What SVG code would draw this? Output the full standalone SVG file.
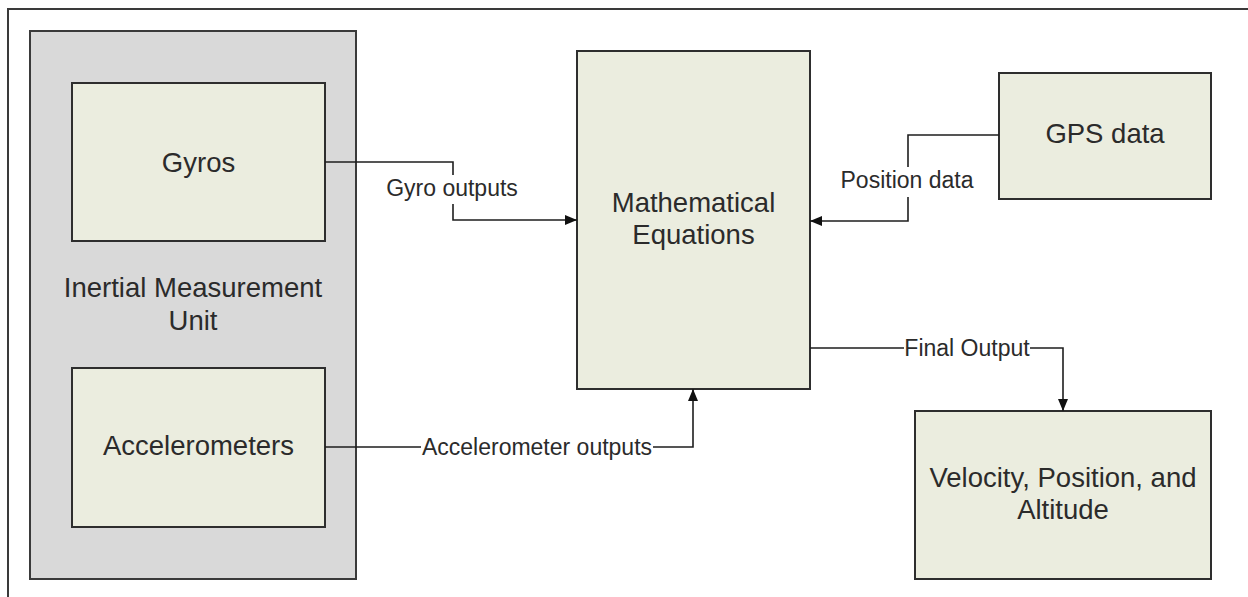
<svg xmlns="http://www.w3.org/2000/svg" width="1248" height="597" viewBox="0 0 1248 597">
  <style>
    .node { fill: #ebeddf; stroke: #2e2e2e; stroke-width: 2; }
    .group { fill: #d9d9d9; stroke: #3a3a3a; stroke-width: 2; }
    .ntext { font-family: "Liberation Sans", Arial, sans-serif; font-size: 27.5px; fill: #2b2b2b; text-anchor: middle; }
    .ltext { font-family: "Liberation Sans", Arial, sans-serif; font-size: 23px; fill: #2b2b2b; text-anchor: middle; }
    .conn { fill: none; stroke: #1e1e1e; stroke-width: 1.6; }
  </style>
  <defs>
    <marker id="arrow" viewBox="0 0 12 10" refX="12" refY="5" markerWidth="12" markerHeight="10" markerUnits="userSpaceOnUse" orient="auto">
      <path d="M0,0 L12,5 L0,10 Z" fill="#111111"/>
    </marker>
  </defs>
  <rect x="0" y="0" width="1248" height="597" fill="#ffffff"/>
  <g id="frame">
    <path d="M8,597 L8,9 L1248,9" fill="none" stroke="#3a3a3a" stroke-width="2"/>
  </g>
  <g id="imu">
    <rect class="group" x="30" y="31" width="326" height="548"/>
    <text class="ntext" x="193" y="297">Inertial Measurement</text>
    <text class="ntext" x="193" y="330">Unit</text>
  </g>
  <g id="gyros">
    <rect class="node" x="72" y="83" width="253" height="158"/>
    <text class="ntext" x="198.5" y="172">Gyros</text>
  </g>
  <g id="accelerometers">
    <rect class="node" x="72" y="368" width="253" height="159"/>
    <text class="ntext" x="198.5" y="455">Accelerometers</text>
  </g>
  <g id="math">
    <rect class="node" x="577" y="51" width="233" height="338"/>
    <text class="ntext" x="693.5" y="212">Mathematical</text>
    <text class="ntext" x="693.5" y="244">Equations</text>
  </g>
  <g id="gps">
    <rect class="node" x="999" y="73" width="212" height="126"/>
    <text class="ntext" x="1105" y="143">GPS data</text>
  </g>
  <g id="output">
    <rect class="node" x="915" y="411" width="296" height="168"/>
    <text class="ntext" x="1063" y="487">Velocity, Position, and</text>
    <text class="ntext" x="1063" y="519">Altitude</text>
  </g>
  <g id="connectors">
    <path class="conn" d="M325,162 L453,162 L453,175 M453,204 L453,220 L577,220" marker-end="url(#arrow)"/>
    <text class="ltext" x="452" y="196">Gyro outputs</text>
    <path class="conn" d="M999,135 L908,135 L908,167 M908,197 L908,221 L810,221" marker-end="url(#arrow)"/>
    <text class="ltext" x="907" y="188">Position data</text>
    <path class="conn" d="M325,447 L421,447 M653,447 L693,447 L693,389" marker-end="url(#arrow)"/>
    <text class="ltext" x="537" y="455">Accelerometer outputs</text>
    <path class="conn" d="M810,348 L904,348 M1030,348 L1063,348 L1063,411" marker-end="url(#arrow)"/>
    <text class="ltext" x="967" y="356">Final Output</text>
  </g>
</svg>
